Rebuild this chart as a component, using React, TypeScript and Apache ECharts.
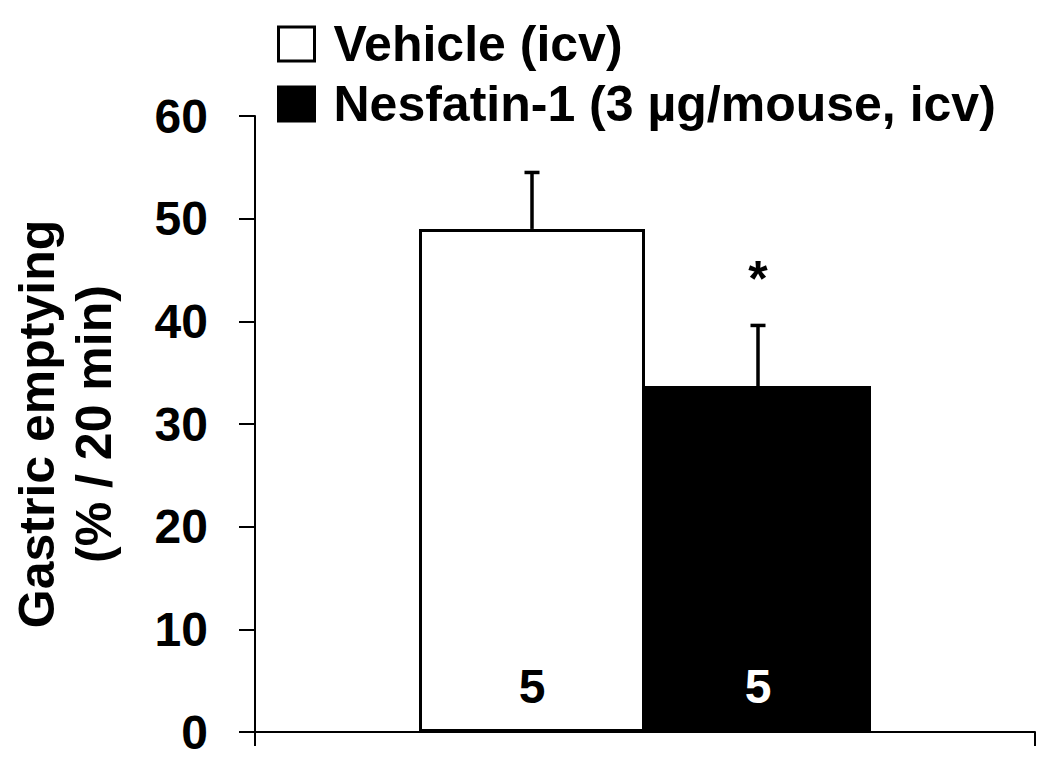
import React, { useEffect, useRef } from "react";
import * as echarts from "echarts";

// ---- data ----
const categories: string[] = [""];
const seriesNames: string[] = ["Vehicle (icv)", "Nesfatin-1 (3 µg/mouse, icv)"];
const means: number[] = [49.0, 33.7];
const sems: number[] = [5.5, 5.9];
const nLabels: string[] = ["5", "5"];
const sigMarks: string[] = ["", "*"];
const yMin = 0;
const yMax = 60;
const yInterval = 10;
const yTitle = "Gastric emptying\n(% / 20 min)";

const FONT = "Arial, 'Liberation Sans', sans-serif";
const BAR_W = 226;

export default function App() {
  const ref = useRef<HTMLDivElement>(null);
  useEffect(() => {
    if (!ref.current) return;
    const chart = echarts.init(ref.current, undefined, { renderer: "svg" });
    const fills = ["#ffffff", "#000000"];
    const labelColors = ["#000000", "#ffffff"];
    const option: any = {
      animation: false,
      backgroundColor: "#ffffff",
      grid: { left: 250, right: 15, top: 116, bottom: 33, containLabel: false },
      legend: {
        orient: "vertical",
        left: 277,
        top: 19,
        padding: 0,
        itemGap: 10,
        itemWidth: 36,
        itemHeight: 34,
        icon: "rect",
        selectedMode: false,
        textStyle: {
          fontFamily: FONT,
          fontSize: 50,
          fontWeight: "bold",
          color: "#000",
          lineHeight: 50,
          padding: [0, 0, 0, 14],
        },
        data: seriesNames.map((n, i) => ({
          name: n,
          itemStyle: { color: fills[i], borderColor: "#000", borderWidth: 3 },
        })),
      },
      xAxis: {
        type: "category",
        data: categories,
        axisLine: { show: true, lineStyle: { color: "#000", width: 2 } },
        axisTick: { show: true, length: 14, alignWithLabel: false, lineStyle: { color: "#000", width: 2 } },
        axisLabel: { show: false },
        splitLine: { show: false },
      },
      yAxis: {
        type: "value",
        min: yMin,
        max: yMax,
        interval: yInterval,
        name: yTitle,
        nameLocation: "middle",
        nameRotate: 90,
        nameGap: 133,
        nameTextStyle: {
          fontFamily: FONT,
          fontSize: 50,
          fontWeight: "bold",
          color: "#000",
          lineHeight: 57,
        },
        axisLine: { show: true, lineStyle: { color: "#000", width: 2 } },
        axisTick: { show: true, length: 16, lineStyle: { color: "#000", width: 2 } },
        axisLabel: {
          fontFamily: FONT,
          fontSize: 48,
          fontWeight: "bold",
          color: "#000",
          margin: 47,
        },
        splitLine: { show: false },
      },
      series: [
        ...seriesNames.map((n, i) => ({
          name: n,
          type: "bar",
          barWidth: BAR_W,
          barGap: "0%",
          data: [means[i]],
          itemStyle: { color: fills[i], borderColor: "#000", borderWidth: 3 },
          emphasis: { disabled: true },
          label: {
            show: true,
            position: "insideBottom",
            distance: 22,
            formatter: () => nLabels[i],
            fontFamily: FONT,
            fontSize: 48,
            fontWeight: "bold",
            color: labelColors[i],
          },
          z: 2,
        })),
        {
          type: "custom",
          name: "err",
          z: 3,
          silent: true,
          data: means.map((m, i) => [0, m, sems[i], i]),
          encode: { x: 0, y: 1 },
          renderItem: (params: any, api: any) => {
            const idx = api.value(3);
            const m = api.value(1);
            const e = api.value(2);
            const base = api.coord([0, m]);
            const top = api.coord([0, m + e]);
            const cx = base[0] + (idx - 0.5) * BAR_W;
            const children: any[] = [
              {
                type: "line",
                shape: { x1: cx, y1: base[1], x2: cx, y2: top[1] },
                style: { stroke: "#000", lineWidth: 3.5 },
              },
              {
                type: "line",
                shape: { x1: cx - 7.5, y1: top[1], x2: cx + 7.5, y2: top[1] },
                style: { stroke: "#000", lineWidth: 3.5 },
              },
            ];
            if (sigMarks[idx]) {
              children.push({
                type: "text",
                x: cx,
                y: top[1] - 46,
                style: {
                  text: sigMarks[idx],
                  fontFamily: FONT,
                  fontSize: 50,
                  fontWeight: "bold",
                  fill: "#000",
                  align: "center",
                  verticalAlign: "middle",
                },
              });
            }
            return { type: "group", children };
          },
        },
      ],
    };
    chart.setOption(option);
    return () => chart.dispose();
  }, []);
  return (
    <div
      ref={ref}
      style={{ position: "absolute", left: 0, top: 0, width: 1050, height: 765, background: "#fff" }}
    />
  );
}
